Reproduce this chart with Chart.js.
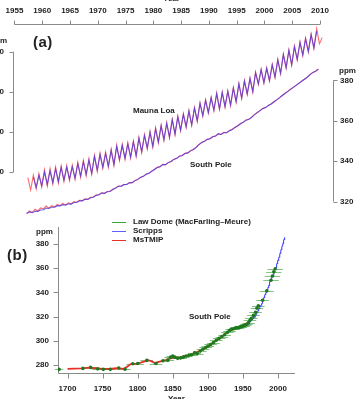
<!DOCTYPE html>
<html lang="en">
<head>
<meta charset="UTF-8">
<title>Atmospheric CO2: Mauna Loa, South Pole and Law Dome</title>
<style>
  html, body { margin: 0; padding: 0; background: #fff; }
  body { width: 358px; height: 399px; position: relative; overflow: hidden;
         font-family: "Liberation Sans", Arial, Helvetica, sans-serif; color: #222; }
  canvas { position: absolute; }
  #chartA { left: -30px; top: -6px; }
  #chartB { left: 0; top: 205px; }
  .lbl { position: absolute; font-size: 8px; font-weight: bold; line-height: 8px; white-space: nowrap; }
  .panel { position: absolute; font-size: 15px; font-weight: bold; line-height: 15px; letter-spacing: 0.5px; }
  .key { position: absolute; left: 112px; width: 14px; height: 0; border-top: 1px solid; }
</style>
</head>
<body>
  <canvas id="chartA" width="400" height="236"></canvas>
  <canvas id="chartB" width="358" height="194"></canvas>

  <div class="lbl" style="left:163px;top:-5px">Year</div>
  <div class="panel" style="left:33px;top:34px">(a)</div>
  <div class="lbl" style="right:351px;top:37px">ppm</div>
  <div class="lbl" style="left:339px;top:67px">ppm</div>
  <div class="lbl" style="left:133px;top:107px">Mauna Loa</div>
  <div class="lbl" style="left:190px;top:161px">South Pole</div>

  <div class="key" style="top:222px;border-color:#3aa53a"></div>
  <div class="lbl" style="left:133px;top:218px">Law Dome (MacFarling–Meure)</div>
  <div class="key" style="top:231px;border-color:#6060ff"></div>
  <div class="lbl" style="left:133px;top:227px">Scripps</div>
  <div class="key" style="top:240px;border-color:#e8302a"></div>
  <div class="lbl" style="left:133px;top:236px">MsTMIP</div>

  <div class="panel" style="left:7px;top:247px">(b)</div>
  <div class="lbl" style="left:36px;top:228px">ppm</div>
  <div class="lbl" style="left:189px;top:313px">South Pole</div>
  <div class="lbl" style="left:168px;top:395px">Year</div>

  <script src="https://cdn.jsdelivr.net/npm/chart.js"></script>
  <script>
    // ---- panel (a): monthly records, read as alternating seasonal highs / lows (half-year steps)
    const mlScrippsStart = 1958.4;
    const mlScripps = [
      317.5, 312.4, 318.3, 313.3, 320.0, 313.8, 320.6, 314.8, 321.6, 315.3,
      322.3, 316.0, 322.4, 316.5, 322.6, 317.0, 324.1, 318.1, 325.0, 318.8,
      325.9, 319.5, 327.7, 321.0, 328.7, 322.4, 329.2, 323.0, 330.7, 323.8,
      332.7, 326.3, 333.2, 326.9, 334.0, 327.5, 334.9, 328.2, 336.8, 330.2,
      338.1, 332.0, 339.7, 332.9, 341.5, 335.0, 343.0, 336.2, 344.2, 337.5,
      346.0, 339.0, 347.5, 340.9, 348.7, 342.6, 350.3, 343.6, 351.8, 345.6,
      354.2, 348.2, 355.7, 349.7, 357.0, 350.9, 359.1, 351.6, 359.6, 352.7,
      360.2, 353.5, 361.8, 355.2, 363.9, 357.0, 365.3, 359.0, 366.6, 360.2,
      369.5, 364.0, 371.0, 364.6, 371.7, 365.7, 373.4, 367.4, 375.9, 369.3,
      378.5, 372.1, 380.6, 373.6, 382.5, 376.2, 384.6, 378.4, 386.4, 380.2,
      388.5, 381.9, 390.2
    ];
    const mlMstmipStart = 1957.4;
    const mlMstmip = [
      317.2, 311.0, 318.5, 311.6, 319.2, 312.5, 321.2, 313.0, 321.6, 314.0,
      322.5, 314.6, 323.0, 315.3, 323.2, 315.8, 323.4, 316.3, 324.9, 317.4,
      325.8, 318.1, 326.6, 318.9, 328.4, 320.4, 329.4, 321.8, 329.9, 322.4,
      331.4, 323.2, 333.4, 325.7, 333.9, 326.3, 334.6, 326.9, 335.5, 327.7,
      337.4, 329.7, 338.7, 331.5, 340.3, 332.4, 342.0, 334.5, 343.5, 335.7,
      344.7, 337.0, 346.4, 338.6, 347.9, 340.5, 349.1, 342.2, 350.7, 343.2,
      352.2, 345.2, 354.6, 347.8, 356.0, 349.3, 357.3, 350.5, 359.4, 351.2,
      359.9, 352.3, 360.5, 353.1, 362.1, 354.8, 364.2, 356.6, 365.6, 358.6,
      366.9, 359.8, 369.8, 363.6, 371.3, 364.2, 372.0, 365.3, 373.7, 367.0,
      376.2, 368.9, 378.8, 371.7, 380.9, 373.2, 382.8, 375.8, 384.9, 378.0,
      386.7, 379.8, 388.8, 381.5, 391.5, 384.0, 387.0
    ];
    const spScrippsStart = 1957.2;
    const spScripps = [
      314.3, 314.9, 314.5, 315.2, 315.2, 315.9, 316.0, 316.8, 316.6, 317.3,
      317.2, 318.0, 317.9, 318.5, 318.3, 318.9, 318.8, 319.6, 319.6, 320.4,
      320.4, 321.2, 321.1, 321.9, 322.2, 323.1, 323.4, 324.2, 324.1, 324.9,
      325.0, 326.0, 326.7, 327.6, 327.6, 328.4, 328.5, 329.3, 329.4, 330.4,
      331.0, 332.0, 332.5, 333.5, 334.0, 335.0, 335.9, 336.9, 337.3, 338.3,
      338.3, 339.3, 339.9, 340.9, 341.4, 342.4, 342.8, 343.8, 344.1, 345.1,
      345.8, 346.8, 348.2, 349.2, 349.8, 350.8, 351.1, 352.1, 352.5, 353.5,
      353.2, 354.2, 354.1, 355.1, 355.7, 356.7, 357.5, 358.5, 359.3, 360.3,
      360.7, 361.7, 363.0, 364.0, 365.0, 366.0, 366.5, 367.5, 368.3, 369.3,
      370.3, 371.3, 372.5, 373.5, 374.5, 375.5, 376.5, 377.5, 378.5, 379.5,
      380.5, 381.5, 382.8, 383.8, 384.5, 385.5
    ];
    const spMstmipStart = 1957.2;
    const spMstmip = [
      314.0, 315.4, 314.6, 316.2, 315.4, 316.9, 316.4, 317.8, 316.8, 318.0,
      317.3, 318.6, 318.0, 319.1, 318.4, 319.4, 318.9, 320.0, 319.7, 320.7,
      320.5, 321.4, 321.2, 322.1, 322.3, 323.3, 323.4, 324.4, 324.1, 325.0,
      325.1, 326.1, 326.7, 327.7, 327.6, 328.5, 328.5, 329.4, 329.4, 330.5,
      331.0, 332.1, 332.5, 333.6, 334.0, 335.1, 335.9, 337.0, 337.3, 338.4,
      338.3, 339.4, 339.9, 341.0, 341.4, 342.5, 342.8, 343.9, 344.1, 345.2,
      345.8, 346.9, 348.2, 349.3, 349.8, 350.9, 351.1, 352.2, 352.5, 353.6,
      353.2, 354.3, 354.1, 355.2, 355.7, 356.8, 357.5, 358.6, 359.3, 360.4,
      360.7, 361.8, 363.0, 364.1, 365.0, 366.1, 366.5, 367.6, 368.3, 369.4,
      370.3, 371.4, 372.5, 373.6, 374.5, 375.6, 376.5, 377.6, 378.5, 379.6,
      380.5, 381.6, 382.8, 383.9, 384.5, 385.6
    ];
    const yearTicksA = [1955, 1960, 1965, 1970, 1975, 1980, 1985, 1990, 1995, 2000, 2005, 2010];
    const ppmTicksA = [320, 340, 360, 380];

    // ---- panel (b)
    const ldYear = [
      1688, 1722, 1733, 1743, 1751, 1761, 1773, 1782, 1793, 1800,
      1813, 1826, 1836, 1843, 1847, 1850, 1853, 1857, 1861, 1865,
      1869, 1873, 1877, 1881, 1885, 1889, 1893, 1897, 1900, 1904,
      1908, 1912, 1916, 1920, 1924, 1928, 1931, 1934, 1937, 1939,
      1941, 1943, 1945, 1947, 1949, 1951, 1953, 1955, 1958, 1960,
      1962, 1965, 1968, 1970, 1972, 1978, 1984, 1990, 1992, 1994, 1996
    ];
    const ldCo2 = [
      276.4, 277.2, 278.0, 276.8, 276.4, 276.4, 277.5, 276.5, 281.0, 281.2,
      283.8, 281.2, 283.5, 284.0, 286.5, 287.5, 286.5, 285.5, 285.8, 286.5,
      287.5, 288.0, 288.5, 290.0, 289.5, 291.5, 293.0, 294.5, 295.5, 297.0,
      298.5, 300.5, 302.0, 303.5, 305.0, 307.0, 308.5, 309.5, 310.0, 310.5,
      311.0, 310.8, 311.2, 311.5, 312.0, 312.5, 313.0, 313.5, 315.0, 317.0,
      318.5, 321.0, 323.5, 327.0, 329.0, 333.5, 341.4, 350.0, 353.5, 357.0, 359.5
    ];
    const ldAgeErr = [
      6, 8, 8, 8, 8, 8, 8, 8, 9, 9,
      9, 9, 9, 9, 9, 9, 9, 9, 9, 9,
      9, 9, 9, 9, 9, 9, 9, 9, 9, 9,
      9, 9, 9, 9, 9, 9, 9, 9, 9, 9,
      9, 9, 9, 9, 9, 9, 9, 9, 9, 9,
      9, 9, 9, 9, 9, 9, 10, 11, 11, 11, 11
    ];
    const msYear = [1700, 1710, 1720, 1730, 1740, 1750, 1760, 1770, 1780, 1785,
                    1790, 1800, 1810, 1815, 1820, 1825, 1830, 1840, 1850, 1860,
                    1870, 1880, 1890, 1900, 1910, 1920, 1930, 1940, 1950, 1958];
    const msCo2 = [276.8, 277.0, 277.2, 277.8, 277.3, 276.8, 276.7, 277.3, 276.8, 278.5,
                   280.8, 281.2, 283.0, 284.0, 283.0, 281.5, 282.5, 284.0, 286.0, 286.3,
                   287.5, 289.5, 292.0, 295.5, 299.5, 303.5, 308.0, 310.5, 312.5, 315.5];
    const yearTicksB = [1700, 1750, 1800, 1850, 1900, 1950, 2000];
    const ppmTicksB = [280, 300, 320, 340, 360, 380];

    const font = { family: '"Liberation Sans", Arial, Helvetica, sans-serif', size: 8, weight: 'bold' };
    const axisColor = '#8a8a8a';

    function halfYear(start, values) {
      return values.map((v, i) => ({ x: start + i * 0.5, y: v }));
    }
    function pairs(xs, ys) {
      return xs.map((x, i) => ({ x: x, y: ys[i] }));
    }
    function fixedTicks(list) {
      return s => { s.ticks = list.map(v => ({ value: v })); };
    }

    const axesA = {
      id: 'axesA',
      afterDraw(chart) {
        const { ctx, chartArea: a, scales: { x, yL, yR } } = chart;
        ctx.save();
        ctx.strokeStyle = axisColor;
        ctx.lineWidth = 1;
        ctx.beginPath();
        const top = Math.round(a.top) + 0.5;
        ctx.moveTo(x.getPixelForValue(yearTicksA[0]), top);
        ctx.lineTo(x.getPixelForValue(yearTicksA[yearTicksA.length - 1]), top);
        yearTicksA.forEach(v => {
          const px = Math.round(x.getPixelForValue(v)) + 0.5;
          ctx.moveTo(px, top); ctx.lineTo(px, top - 4);
        });
        const lx = Math.round(a.left) + 0.5;
        ctx.moveTo(lx, yL.getPixelForValue(ppmTicksA[0]));
        ctx.lineTo(lx, yL.getPixelForValue(ppmTicksA[ppmTicksA.length - 1]));
        ppmTicksA.forEach(v => {
          const py = Math.round(yL.getPixelForValue(v)) + 0.5;
          ctx.moveTo(lx, py); ctx.lineTo(lx - 4, py);
        });
        const rx = Math.round(a.right) + 0.5;
        ctx.moveTo(rx, yR.getPixelForValue(ppmTicksA[0]));
        ctx.lineTo(rx, yR.getPixelForValue(ppmTicksA[ppmTicksA.length - 1]));
        ppmTicksA.forEach(v => {
          const py = Math.round(yR.getPixelForValue(v)) + 0.5;
          ctx.moveTo(rx, py); ctx.lineTo(rx + 4, py);
        });
        ctx.stroke();
        ctx.restore();
      }
    };

    const axesB = {
      id: 'axesB',
      beforeDatasetsDraw(chart) {
        const { ctx, chartArea: a, scales: { x, y } } = chart;
        ctx.save();
        // Law Dome age spread
        ctx.strokeStyle = 'rgba(80,170,80,0.7)';
        ctx.lineWidth = 1;
        ctx.beginPath();
        ldYear.forEach((yr, i) => {
          const py = Math.round(y.getPixelForValue(ldCo2[i])) + 0.5;
          ctx.moveTo(x.getPixelForValue(yr - ldAgeErr[i]), py);
          ctx.lineTo(x.getPixelForValue(yr + ldAgeErr[i]), py);
        });
        ctx.stroke();
        // L-shaped frame
        ctx.strokeStyle = axisColor;
        ctx.beginPath();
        const lx = Math.round(a.left) + 0.5;
        const by = Math.round(a.bottom) + 0.5;
        ctx.moveTo(lx, a.top); ctx.lineTo(lx, by); ctx.lineTo(a.right, by);
        yearTicksB.forEach(v => {
          const px = Math.round(x.getPixelForValue(v)) + 0.5;
          ctx.moveTo(px, by); ctx.lineTo(px, by + 5);
        });
        ppmTicksB.forEach(v => {
          const py = Math.round(y.getPixelForValue(v)) + 0.5;
          ctx.moveTo(lx, py); ctx.lineTo(lx - 5, py);
        });
        ctx.stroke();
        ctx.restore();
      }
    };

    const red = 'rgba(255,80,80,0.85)';
    const blue = 'rgba(75,55,230,0.8)';

    new Chart(document.getElementById('chartA'), {
      type: 'line',
      data: {
        datasets: [
          { label: 'Scripps Mauna Loa', data: halfYear(mlScrippsStart, mlScripps), yAxisID: 'yL', borderColor: blue, borderWidth: 1.1, order: 1 },
          { label: 'Scripps South Pole', data: halfYear(spScrippsStart, spScripps), yAxisID: 'yR', borderColor: blue, borderWidth: 1.1, order: 1 },
          { label: 'MsTMIP Mauna Loa', data: halfYear(mlMstmipStart, mlMstmip), yAxisID: 'yL', borderColor: red, borderWidth: 1.1, order: 2 },
          { label: 'MsTMIP South Pole', data: halfYear(spMstmipStart, spMstmip), yAxisID: 'yR', borderColor: red, borderWidth: 1.1, order: 2 }
        ]
      },
      options: {
        responsive: false,
        animation: false,
        layout: { padding: { top: 0, right: 0, bottom: 8, left: 0 } },
        elements: { point: { radius: 0 }, line: { tension: 0 } },
        plugins: { legend: { display: false }, tooltip: { enabled: false } },
        scales: {
          x: {
            type: 'linear', position: 'top', min: 1954.73, max: 2012.34,
            afterFit: s => { s.height = 30; },
            afterBuildTicks: fixedTicks(yearTicksA),
            grid: { display: false, drawTicks: false }, border: { display: false },
            ticks: { padding: 8, font: font, color: '#222', maxRotation: 0, autoSkip: false, callback: v => String(v) }
          },
          yL: {
            type: 'linear', position: 'left', min: 297.98, max: 393.79,
            afterFit: s => { s.width = 43; },
            afterBuildTicks: fixedTicks(ppmTicksA),
            grid: { display: false, drawTicks: false }, border: { display: false },
            ticks: { padding: 9, font: font, color: '#222', callback: v => String(v) }
          },
          yR: {
            type: 'linear', position: 'right', min: 312.8, max: 407.84,
            afterFit: s => { s.width = 37; },
            afterBuildTicks: fixedTicks(ppmTicksA),
            grid: { display: false, drawTicks: false }, border: { display: false },
            ticks: { padding: 7, font: font, color: '#222', callback: v => String(v) }
          }
        }
      },
      plugins: [axesA]
    });

    new Chart(document.getElementById('chartB'), {
      type: 'line',
      data: {
        datasets: [
          { label: 'Law Dome (MacFarling–Meure)', data: pairs(ldYear, ldCo2), showLine: false,
            pointRadius: 1.8, pointBackgroundColor: '#1e7a1e', pointBorderWidth: 0, order: 1 },
          { label: 'Scripps', data: halfYear(spScrippsStart, spScripps), borderColor: '#4a4aff', borderWidth: 1.1, pointRadius: 0, order: 2 },
          { label: 'MsTMIP', data: pairs(msYear, msCo2), borderColor: '#e8302a', borderWidth: 1.8, pointRadius: 0, order: 3 }
        ]
      },
      options: {
        responsive: false,
        animation: false,
        layout: { padding: { top: 22, right: 63, bottom: 0, left: 0 } },
        elements: { line: { tension: 0 } },
        plugins: { legend: { display: false }, tooltip: { enabled: false } },
        scales: {
          x: {
            type: 'linear', position: 'bottom', min: 1686.46, max: 2024.23,
            afterFit: s => { s.height = 26; },
            afterBuildTicks: fixedTicks(yearTicksB),
            grid: { display: false, drawTicks: false }, border: { display: false },
            ticks: { padding: 11, font: font, color: '#222', maxRotation: 0, autoSkip: false, callback: v => String(v) }
          },
          y: {
            type: 'linear', position: 'left', min: 273.39, max: 394.05,
            afterFit: s => { s.width = 58; },
            afterBuildTicks: fixedTicks(ppmTicksB),
            grid: { display: false, drawTicks: false }, border: { display: false },
            ticks: { padding: 9, font: font, color: '#222', callback: v => String(v) }
          }
        }
      },
      plugins: [axesB]
    });
  </script>
</body>
</html>
